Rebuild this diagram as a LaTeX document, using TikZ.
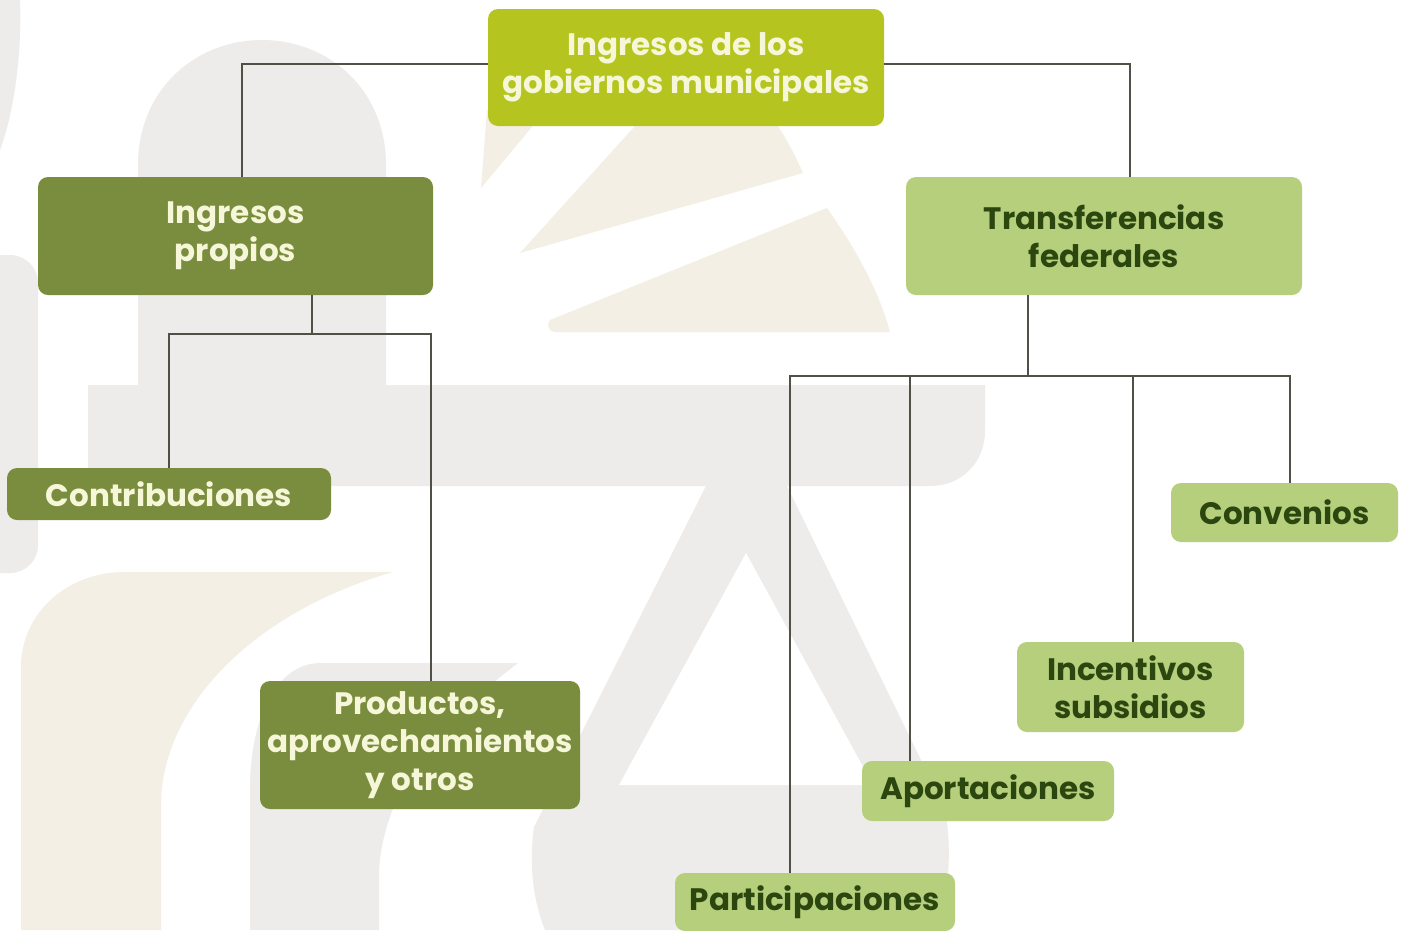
\documentclass[tikz,border=0pt]{standalone}
\usepackage{fontspec}
\setmainfont{Poppins}
\definecolor{bggrey}{RGB}{238,236,234}
\definecolor{bgbeige}{RGB}{244,239,229}
\definecolor{topfill}{RGB}{181,196,30}
\definecolor{darkfill}{RGB}{122,140,62}
\definecolor{lightfill}{RGB}{182,207,124}
\definecolor{creamtext}{RGB}{245,247,216}
\definecolor{darktext}{RGB}{44,70,16}
\definecolor{linecol}{RGB}{80,80,70}
\begin{document}
\begin{tikzpicture}[x=1pt,y=-1pt,
  box/.style={rectangle, rounded corners=10pt, inner sep=0pt, align=center,
    font=\fontsize{31}{38}\selectfont\bfseries},
  topbox/.style={box, fill=topfill, text=creamtext},
  darkbox/.style={box, fill=darkfill, text=creamtext},
  lightbox/.style={box, fill=lightfill, text=darktext},
  conn/.style={draw=linecol, line width=2pt}]
\useasboundingbox (0,0) rectangle (1404,930);
\fill[white] (0,0) rectangle (1404,930);
% background watermark
\fill[bggrey] (0,0) -- (20,0) .. controls (22,50) and (15,110) .. (0,150) -- cycle;
\fill[bggrey] (138,385) -- (138,165) .. controls (138,90) and (195,40) .. (262,40)
  .. controls (329,40) and (386,90) .. (386,165) -- (386,385) -- cycle;
\fill[bggrey, rounded corners=28pt] (-40,255) rectangle (38,573);
\fill[bggrey] (88,385) -- (985,385) -- (985,431) .. controls (985,462) and (962,486) .. (930,486) -- (88,486) -- cycle;
\fill[bggrey] (709,480) -- (784,480) -- (944,807) .. controls (952,840) and (950,890) .. (938,930)
  -- (545,930) .. controls (535,905) and (528,870) .. (534,827) -- cycle;
\fill[white] (746,553) -- (873,785) -- (619,785) -- cycle;
\fill[bggrey] (518,663) -- (321,663) .. controls (275,663) and (250,720) .. (250,790) -- (250,930)
  -- (379,930) -- (379,870) .. controls (385,780) and (450,715) .. (518,663) -- cycle;
\fill[bgbeige] (393,572) -- (125,572) .. controls (65,572) and (21,615) .. (21,667) -- (21,930)
  -- (161,930) -- (161,800) .. controls (165,700) and (260,610) .. (393,572) -- cycle;
\fill[bgbeige] (481,188) -- (487,110) -- (546,110) -- cycle;
\fill[bgbeige] (520,253) -- (645,115) -- (770,115) .. controls (785,135) and (795,155) .. (803,173) -- cycle;
\fill[bgbeige] (550,320) -- (827,208) .. controls (860,255) and (880,295) .. (890,332) -- (556,332)
  .. controls (548,332) and (546,324) .. (550,320) -- cycle;
% nodes
\node[topbox, minimum width=396pt, minimum height=117pt] (top) at (686,67.5) {Ingresos de los\\gobiernos municipales};
\node[darkbox, minimum width=395pt, minimum height=118pt] (propios) at (235.5,236) {Ingresos\\propios};
\node[lightbox, minimum width=396pt, minimum height=118pt] (transf) at (1104,236) {Transferencias\\federales};
\node[darkbox, minimum width=324pt, minimum height=52pt] (contrib) at (169,494) {Contribuciones};
\node[darkbox, minimum width=320pt, minimum height=128pt] (productos) at (420,745) {Productos,\\aprovechamientos\\y otros};
\node[lightbox, minimum width=227pt, minimum height=59pt] (conv) at (1284.5,512.5) {Convenios};
\node[lightbox, minimum width=227pt, minimum height=90pt] (incent) at (1130.5,687) {Incentivos\\subsidios};
\node[lightbox, minimum width=252pt, minimum height=60pt] (aport) at (988,791) {Aportaciones};
\node[lightbox, minimum width=280pt, minimum height=58pt] (part) at (815,902) {Participaciones};
% connectors
\coordinate (pj) at (312,334);
\coordinate (tj) at (1028,376);
\draw[conn] ([yshift=3.5pt]top.west) -| ([xshift=6.5pt]propios.north);
\draw[conn] ([yshift=3.5pt]top.east) -| ([xshift=26pt]transf.north);
\draw[conn] ([xshift=76.5pt]propios.south) -- (pj);
\draw[conn] (contrib.north) |- (pj) -| ([xshift=11pt]productos.north);
\draw[conn] ([xshift=-76pt]transf.south) -- (tj);
\draw[conn] ([xshift=-25pt]part.north) |- (tj) -| ([xshift=5.5pt]conv.north);
\draw[conn] ([xshift=-78pt]aport.north) |- (tj);
\draw[conn] ([xshift=2.5pt]incent.north) |- (tj);
\end{tikzpicture}
\end{document}
